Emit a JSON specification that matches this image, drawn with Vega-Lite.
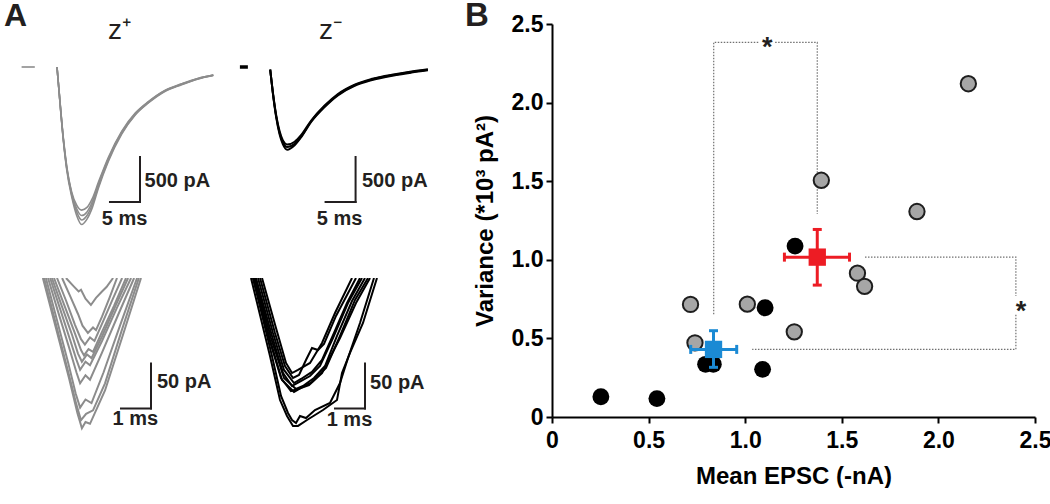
{
"$schema": "https://vega.github.io/schema/vega-lite/v6.json",
"padding": 0,
"background": "white",
"config": {"view": {"stroke": null}, "font": "Liberation Sans"},
"datasets": {
"tl": [
{"trace":"s","t":-5.9,"pA":0},{"trace":"s","t":-3.7,"pA":0},
{"trace":"a","t":0,"pA":0},{"trace":"a","t":0.5,"pA":-400},{"trace":"a","t":1.05,"pA":-810},{"trace":"a","t":1.62,"pA":-1140},{"trace":"a","t":2.45,"pA":-1440},{"trace":"a","t":3.28,"pA":-1650},{"trace":"a","t":4.1,"pA":-1750},{"trace":"a","t":5.0,"pA":-1690},{"trace":"a","t":5.9,"pA":-1560},{"trace":"a","t":6.88,"pA":-1350},{"trace":"a","t":8.55,"pA":-1050},{"trace":"a","t":10.78,"pA":-745},{"trace":"a","t":13.0,"pA":-535},{"trace":"a","t":15.22,"pA":-400},{"trace":"a","t":17.97,"pA":-272},{"trace":"a","t":20.78,"pA":-197},{"trace":"a","t":23.55,"pA":-133},{"trace":"a","t":26.05,"pA":-95},
{"trace":"b","t":0,"pA":0},{"trace":"b","t":0.5,"pA":-395},{"trace":"b","t":1.05,"pA":-800},{"trace":"b","t":1.62,"pA":-1125},{"trace":"b","t":2.45,"pA":-1420},{"trace":"b","t":3.28,"pA":-1610},{"trace":"b","t":4.1,"pA":-1700},{"trace":"b","t":5.0,"pA":-1650},{"trace":"b","t":5.9,"pA":-1525},{"trace":"b","t":6.88,"pA":-1325},{"trace":"b","t":8.55,"pA":-1035},{"trace":"b","t":10.78,"pA":-735},{"trace":"b","t":13.0,"pA":-530},{"trace":"b","t":15.22,"pA":-395},{"trace":"b","t":17.97,"pA":-268},{"trace":"b","t":20.78,"pA":-193},{"trace":"b","t":23.55,"pA":-130},{"trace":"b","t":26.05,"pA":-92},
{"trace":"c","t":0,"pA":0},{"trace":"c","t":0.5,"pA":-390},{"trace":"c","t":1.05,"pA":-795},{"trace":"c","t":1.62,"pA":-1115},{"trace":"c","t":2.45,"pA":-1405},{"trace":"c","t":3.28,"pA":-1575},{"trace":"c","t":4.1,"pA":-1650},{"trace":"c","t":5.0,"pA":-1610},{"trace":"c","t":5.9,"pA":-1495},{"trace":"c","t":6.88,"pA":-1305},{"trace":"c","t":8.55,"pA":-1020},{"trace":"c","t":10.78,"pA":-725},{"trace":"c","t":13.0,"pA":-522},{"trace":"c","t":15.22,"pA":-390},{"trace":"c","t":17.97,"pA":-264},{"trace":"c","t":20.78,"pA":-190},{"trace":"c","t":23.55,"pA":-127},{"trace":"c","t":26.05,"pA":-90},
{"trace":"d","t":0,"pA":0},{"trace":"d","t":0.5,"pA":-385},{"trace":"d","t":1.05,"pA":-785},{"trace":"d","t":1.62,"pA":-1100},{"trace":"d","t":2.45,"pA":-1390},{"trace":"d","t":3.28,"pA":-1535},{"trace":"d","t":4.1,"pA":-1590},{"trace":"d","t":5.0,"pA":-1560},{"trace":"d","t":5.9,"pA":-1460},{"trace":"d","t":6.88,"pA":-1285},{"trace":"d","t":8.55,"pA":-1005},{"trace":"d","t":10.78,"pA":-715},{"trace":"d","t":13.0,"pA":-515},{"trace":"d","t":15.22,"pA":-385},{"trace":"d","t":17.97,"pA":-260},{"trace":"d","t":20.78,"pA":-186},{"trace":"d","t":23.55,"pA":-124},{"trace":"d","t":26.05,"pA":-88}
],
"tr": [
{"trace":"s","t":-5.05,"pA":0},{"trace":"s","t":-3.72,"pA":0},
{"trace":"a","t":0,"pA":-30},{"trace":"a","t":0.45,"pA":-295},{"trace":"a","t":1.0,"pA":-560},{"trace":"a","t":1.57,"pA":-750},{"trace":"a","t":2.12,"pA":-860},{"trace":"a","t":2.83,"pA":-920},{"trace":"a","t":4.07,"pA":-870},{"trace":"a","t":5.17,"pA":-780},{"trace":"a","t":6.83,"pA":-610},{"trace":"a","t":9.07,"pA":-445},{"trace":"a","t":11.28,"pA":-315},{"trace":"a","t":14.07,"pA":-210},{"trace":"a","t":16.83,"pA":-148},{"trace":"a","t":20.78,"pA":-92},{"trace":"a","t":23.55,"pA":-62},{"trace":"a","t":26.28,"pA":-36},
{"trace":"b","t":0,"pA":-30},{"trace":"b","t":0.45,"pA":-289},{"trace":"b","t":1.0,"pA":-548},{"trace":"b","t":1.57,"pA":-733},{"trace":"b","t":2.12,"pA":-837},{"trace":"b","t":2.83,"pA":-889},{"trace":"b","t":4.07,"pA":-852},{"trace":"b","t":5.17,"pA":-770},{"trace":"b","t":6.83,"pA":-603},{"trace":"b","t":9.07,"pA":-437},{"trace":"b","t":11.28,"pA":-308},{"trace":"b","t":14.07,"pA":-203},{"trace":"b","t":16.83,"pA":-141},{"trace":"b","t":20.78,"pA":-86},{"trace":"b","t":23.55,"pA":-56},{"trace":"b","t":26.28,"pA":-30},
{"trace":"c","t":0,"pA":-30},{"trace":"c","t":0.45,"pA":-282},{"trace":"c","t":1.0,"pA":-535},{"trace":"c","t":1.57,"pA":-715},{"trace":"c","t":2.12,"pA":-815},{"trace":"c","t":2.83,"pA":-860},{"trace":"c","t":4.07,"pA":-830},{"trace":"c","t":5.17,"pA":-755},{"trace":"c","t":6.83,"pA":-595},{"trace":"c","t":9.07,"pA":-428},{"trace":"c","t":11.28,"pA":-300},{"trace":"c","t":14.07,"pA":-196},{"trace":"c","t":16.83,"pA":-134},{"trace":"c","t":20.78,"pA":-80},{"trace":"c","t":23.55,"pA":-50},{"trace":"c","t":26.28,"pA":-25}
],
"bl": [
{"trace":"1","t":3.2,"pA":-1575},{"trace":"1","t":3.45,"pA":-1584},{"trace":"1","t":3.62,"pA":-1590},{"trace":"1","t":3.7,"pA":-1588},{"trace":"1","t":3.85,"pA":-1598},{"trace":"1","t":4.03,"pA":-1605},{"trace":"1","t":4.2,"pA":-1597},{"trace":"1","t":4.4,"pA":-1590},{"trace":"1","t":4.55,"pA":-1585},{"trace":"1","t":4.77,"pA":-1575},
{"trace":"2","t":3.07,"pA":-1575},{"trace":"2","t":3.35,"pA":-1596},{"trace":"2","t":3.6,"pA":-1615},{"trace":"2","t":3.75,"pA":-1628},{"trace":"2","t":3.93,"pA":-1636},{"trace":"2","t":4.1,"pA":-1630},{"trace":"2","t":4.2,"pA":-1633},{"trace":"2","t":4.4,"pA":-1618},{"trace":"2","t":4.65,"pA":-1597},{"trace":"2","t":4.9,"pA":-1575},
{"trace":"3","t":2.9,"pA":-1575},{"trace":"3","t":3.2,"pA":-1600},{"trace":"3","t":3.5,"pA":-1627},{"trace":"3","t":3.7,"pA":-1643},{"trace":"3","t":3.83,"pA":-1649},{"trace":"3","t":4.0,"pA":-1641},{"trace":"3","t":4.15,"pA":-1645},{"trace":"3","t":4.45,"pA":-1622},{"trace":"3","t":4.75,"pA":-1599},{"trace":"3","t":5.07,"pA":-1575},
{"trace":"4","t":2.8,"pA":-1575},{"trace":"4","t":3.13,"pA":-1604},{"trace":"4","t":3.47,"pA":-1634},{"trace":"4","t":3.7,"pA":-1655},{"trace":"4","t":3.8,"pA":-1661},{"trace":"4","t":3.95,"pA":-1654},{"trace":"4","t":4.1,"pA":-1657},{"trace":"4","t":4.4,"pA":-1635},{"trace":"4","t":4.8,"pA":-1606},{"trace":"4","t":5.2,"pA":-1575},
{"trace":"5","t":2.73,"pA":-1575},{"trace":"5","t":3.07,"pA":-1607},{"trace":"5","t":3.4,"pA":-1638},{"trace":"5","t":3.6,"pA":-1659},{"trace":"5","t":3.73,"pA":-1668},{"trace":"5","t":3.9,"pA":-1660},{"trace":"5","t":4.05,"pA":-1664},{"trace":"5","t":4.4,"pA":-1640},{"trace":"5","t":4.85,"pA":-1606},{"trace":"5","t":5.27,"pA":-1575},
{"trace":"6","t":2.67,"pA":-1575},{"trace":"6","t":3.0,"pA":-1609},{"trace":"6","t":3.33,"pA":-1643},{"trace":"6","t":3.55,"pA":-1666},{"trace":"6","t":3.67,"pA":-1677},{"trace":"6","t":3.85,"pA":-1668},{"trace":"6","t":4.0,"pA":-1672},{"trace":"6","t":4.4,"pA":-1645},{"trace":"6","t":4.9,"pA":-1608},{"trace":"6","t":5.37,"pA":-1575},
{"trace":"7","t":2.6,"pA":-1575},{"trace":"7","t":2.95,"pA":-1614},{"trace":"7","t":3.3,"pA":-1652},{"trace":"7","t":3.55,"pA":-1680},{"trace":"7","t":3.67,"pA":-1692},{"trace":"7","t":3.85,"pA":-1683},{"trace":"7","t":4.0,"pA":-1688},{"trace":"7","t":4.4,"pA":-1658},{"trace":"7","t":4.95,"pA":-1615},{"trace":"7","t":5.47,"pA":-1575},
{"trace":"8","t":2.53,"pA":-1575},{"trace":"8","t":2.9,"pA":-1622},{"trace":"8","t":3.27,"pA":-1669},{"trace":"8","t":3.52,"pA":-1703},{"trace":"8","t":3.67,"pA":-1719},{"trace":"8","t":3.85,"pA":-1710},{"trace":"8","t":4.05,"pA":-1714},{"trace":"8","t":4.45,"pA":-1680},{"trace":"8","t":5.0,"pA":-1628},{"trace":"8","t":5.57,"pA":-1575},
{"trace":"9","t":2.47,"pA":-1575},{"trace":"9","t":2.87,"pA":-1627},{"trace":"9","t":3.27,"pA":-1679},{"trace":"9","t":3.55,"pA":-1716},{"trace":"9","t":3.7,"pA":-1733},{"trace":"9","t":3.87,"pA":-1726},{"trace":"9","t":4.1,"pA":-1722},{"trace":"9","t":4.5,"pA":-1692},{"trace":"9","t":5.05,"pA":-1634},{"trace":"9","t":5.63,"pA":-1575},
{"trace":"10","t":2.43,"pA":-1575},{"trace":"10","t":2.86,"pA":-1630},{"trace":"10","t":3.3,"pA":-1686},{"trace":"10","t":3.58,"pA":-1725},{"trace":"10","t":3.73,"pA":-1742},{"trace":"10","t":3.85,"pA":-1735},{"trace":"10","t":4.0,"pA":-1737},{"trace":"10","t":4.5,"pA":-1700},{"trace":"10","t":5.1,"pA":-1638},{"trace":"10","t":5.7,"pA":-1575}
],
"br": [
{"trace":"1","t":1.667,"pA":-755},{"trace":"1","t":2.133,"pA":-810.6},{"trace":"1","t":2.467,"pA":-849.4},{"trace":"1","t":2.667,"pA":-860.6},{"trace":"1","t":2.867,"pA":-857.2},{"trace":"1","t":3.267,"pA":-849.4},{"trace":"1","t":3.667,"pA":-827.2},{"trace":"1","t":4.1,"pA":-793.9},{"trace":"1","t":4.667,"pA":-755},
{"trace":"2","t":1.6,"pA":-755},{"trace":"2","t":2.1,"pA":-816.1},{"trace":"2","t":2.433,"pA":-852.8},{"trace":"2","t":2.7,"pA":-866.1},{"trace":"2","t":2.9,"pA":-862.8},{"trace":"2","t":3.133,"pA":-846.1},{"trace":"2","t":3.333,"pA":-832.8},{"trace":"2","t":3.533,"pA":-835},{"trace":"2","t":3.733,"pA":-828.3},{"trace":"2","t":4.133,"pA":-797.2},{"trace":"2","t":4.8,"pA":-755},
{"trace":"3","t":1.533,"pA":-755},{"trace":"3","t":2.033,"pA":-816.1},{"trace":"3","t":2.4,"pA":-857.2},{"trace":"3","t":2.733,"pA":-871.7},{"trace":"3","t":2.967,"pA":-867.2},{"trace":"3","t":3.333,"pA":-859.4},{"trace":"3","t":3.667,"pA":-846.1},{"trace":"3","t":4.067,"pA":-816.1},{"trace":"3","t":4.5,"pA":-782.8},{"trace":"3","t":4.933,"pA":-755},
{"trace":"4","t":1.467,"pA":-755},{"trace":"4","t":2.0,"pA":-819.4},{"trace":"4","t":2.367,"pA":-860.6},{"trace":"4","t":2.667,"pA":-875},{"trace":"4","t":2.9,"pA":-870.6},{"trace":"4","t":3.267,"pA":-863.9},{"trace":"4","t":3.6,"pA":-852.8},{"trace":"4","t":4.033,"pA":-821.7},{"trace":"4","t":4.533,"pA":-782.8},{"trace":"4","t":5.0,"pA":-755},
{"trace":"5","t":1.433,"pA":-755},{"trace":"5","t":1.967,"pA":-821.7},{"trace":"5","t":2.4,"pA":-866.1},{"trace":"5","t":2.8,"pA":-878.3},{"trace":"5","t":3.033,"pA":-875},{"trace":"5","t":3.4,"pA":-866.1},{"trace":"5","t":3.767,"pA":-852.8},{"trace":"5","t":4.167,"pA":-819.4},{"trace":"5","t":4.667,"pA":-780.6},{"trace":"5","t":5.1,"pA":-755},
{"trace":"6","t":1.4,"pA":-755},{"trace":"6","t":1.933,"pA":-823.9},{"trace":"6","t":2.333,"pA":-868.3},{"trace":"6","t":2.733,"pA":-881.7},{"trace":"6","t":2.967,"pA":-877.2},{"trace":"6","t":3.333,"pA":-870.6},{"trace":"6","t":3.8,"pA":-855},{"trace":"6","t":4.267,"pA":-819.4},{"trace":"6","t":4.767,"pA":-779.4},{"trace":"6","t":5.2,"pA":-755},
{"trace":"7","t":1.367,"pA":-755},{"trace":"7","t":1.9,"pA":-821.7},{"trace":"7","t":2.3,"pA":-866.1},{"trace":"7","t":2.633,"pA":-880.6},{"trace":"7","t":2.867,"pA":-878.3},{"trace":"7","t":3.233,"pA":-873.9},{"trace":"7","t":3.667,"pA":-860.6},{"trace":"7","t":4.267,"pA":-821.7},{"trace":"7","t":4.8,"pA":-782.8},{"trace":"7","t":5.267,"pA":-755},
{"trace":"8","t":1.367,"pA":-755},{"trace":"8","t":2.0,"pA":-841.7},{"trace":"8","t":2.3,"pA":-886.1},{"trace":"8","t":2.533,"pA":-905},{"trace":"8","t":2.667,"pA":-912.8},{"trace":"8","t":2.8,"pA":-916.1},{"trace":"8","t":2.933,"pA":-908.3},{"trace":"8","t":3.133,"pA":-910.6},{"trace":"8","t":3.433,"pA":-901.7},{"trace":"8","t":3.933,"pA":-893.9},{"trace":"8","t":4.267,"pA":-871.7},{"trace":"8","t":4.533,"pA":-843.9},{"trace":"8","t":4.933,"pA":-805},{"trace":"8","t":5.4,"pA":-755},
{"trace":"9","t":1.3,"pA":-755},{"trace":"9","t":1.933,"pA":-841.7},{"trace":"9","t":2.267,"pA":-890.6},{"trace":"9","t":2.5,"pA":-908.3},{"trace":"9","t":2.7,"pA":-919.4},{"trace":"9","t":2.867,"pA":-919.4},{"trace":"9","t":3.167,"pA":-912.8},{"trace":"9","t":3.7,"pA":-901.7},{"trace":"9","t":4.167,"pA":-890.6},{"trace":"9","t":4.333,"pA":-860.6},{"trace":"9","t":4.6,"pA":-838.3},{"trace":"9","t":5.033,"pA":-805},{"trace":"9","t":5.5,"pA":-755}
],
"bars": [
{"panel":"TL","t":13.83,"t2":13.83,"v":-1000,"v2":-1500},{"panel":"TL","t":8.83,"t2":13.83,"v":-1500,"v2":-1500},
{"panel":"TR","t":14.23,"t2":14.23,"v":-1000,"v2":-1500},{"panel":"TR","t":9.23,"t2":14.23,"v":-1500,"v2":-1500},
{"panel":"BL","t":6.033,"t2":6.033,"v":-1670,"v2":-1720},{"panel":"BL","t":5.033,"t2":6.033,"v":-1720,"v2":-1720},
{"panel":"BR","t":5.1,"t2":5.1,"v":-850,"v2":-900},{"panel":"BR","t":4.1,"t2":5.1,"v":-900,"v2":-900}
],
"labels": [
{"panel":"TL","kind":"amp","t":14.6,"v":-1267,"label":"500 pA"},{"panel":"TL","kind":"time","t":11.25,"v":-1689,"label":"5 ms"},{"panel":"TL","kind":"title","t":10.42,"v":311,"label":"z⁺"},
{"panel":"TR","kind":"amp","t":15.3,"v":-1267,"label":"500 pA"},{"panel":"TR","kind":"time","t":11.57,"v":-1689,"label":"5 ms"},{"panel":"TR","kind":"title","t":10.05,"v":311,"label":"z⁻"},
{"panel":"BL","kind":"amp","t":6.23,"v":-1691,"label":"50 pA"},{"panel":"BL","kind":"time","t":5.51,"v":-1732,"label":"1 ms"},
{"panel":"BR","kind":"amp","t":5.27,"v":-872,"label":"50 pA"},{"panel":"BR","kind":"time","t":4.583,"v":-913,"label":"1 ms"}
],
"gray": [
{"x":0.717,"y":0.716},{"x":0.74,"y":0.472},{"x":1.011,"y":0.718},{"x":1.254,"y":0.542},{"x":1.394,"y":1.506},{"x":1.581,"y":0.915},{"x":1.618,"y":0.831},{"x":1.889,"y":1.307},{"x":2.155,"y":2.12}
],
"black": [
{"x":0.253,"y":0.129},{"x":0.543,"y":0.117},{"x":0.795,"y":0.335},{"x":0.835,"y":0.335},{"x":1.09,"y":0.303},{"x":1.103,"y":0.695},{"x":1.258,"y":1.087}
],
"err": [
{"g":"red","x":1.373,"y":1.017,"xlo":1.203,"xhi":1.54,"ylo":0.839,"yhi":1.193},
{"g":"blue","x":0.836,"y":0.43,"xlo":0.718,"xhi":0.956,"ylo":0.316,"yhi":0.549}
],
"brk": [
{"seg":"1","k":0,"x":0.837,"y":0.653},{"seg":"1","k":1,"x":0.837,"y":2.383},{"seg":"1","k":2,"x":1.071,"y":2.383},
{"seg":"2","k":0,"x":1.155,"y":2.383},{"seg":"2","k":1,"x":1.373,"y":2.383},{"seg":"2","k":2,"x":1.373,"y":1.292},
{"seg":"3","k":0,"x":1.62,"y":1.017},{"seg":"3","k":1,"x":2.401,"y":1.017},{"seg":"3","k":2,"x":2.401,"y":0.77},
{"seg":"4","k":0,"x":2.401,"y":0.65},{"seg":"4","k":1,"x":2.401,"y":0.43},{"seg":"4","k":2,"x":1.036,"y":0.43}
],
"stars": [{"x":1.114,"y":2.299,"s":"*"},{"x":2.428,"y":0.614,"s":"*"}],
"blab": [{"x":-0.45,"y":2.487,"s":"B"}]
},
"spacing": 17,
"hconcat": [
{
"title": {"text":"A","anchor":"start","fontSize":32,"fontWeight":"bold","color":"#231f20","offset":-16,"dx":4},
"spacing": 40,
"vconcat": [
{"spacing": 15, "hconcat": [
{"width":215,"height":214,
 "layer":[
  {"data":{"name":"tl"},"mark":{"type":"line","color":"#8c8c8c","strokeWidth":1.6,"interpolate":"monotone"},
   "encoding":{"x":{"field":"t","type":"quantitative","scale":{"domain":[-9.5,26.3333],"nice":false,"zero":false},"axis":null},
               "y":{"field":"pA","type":"quantitative","scale":{"domain":[-1900,477.78],"nice":false,"zero":false},"axis":null},
               "detail":{"field":"trace","type":"nominal"}}},
  {"data":{"name":"bars"},"transform":[{"filter":"datum.panel == 'TL'"}],"mark":{"type":"rule","color":"#231f20","strokeWidth":2,"strokeCap":"square"},
   "encoding":{"x":{"field":"t","type":"quantitative","axis":null},"x2":{"field":"t2"},"y":{"field":"v","type":"quantitative","axis":null},"y2":{"field":"v2"}}},
  {"data":{"name":"labels"},"transform":[{"filter":"datum.panel == 'TL' && datum.kind == 'amp'"}],"mark":{"type":"text","fontSize":20,"fontWeight":"bold","align":"left","baseline":"middle","color":"#231f20"},
   "encoding":{"x":{"field":"t","type":"quantitative","axis":null},"y":{"field":"v","type":"quantitative","axis":null},"text":{"field":"label"}}},
  {"data":{"name":"labels"},"transform":[{"filter":"datum.panel == 'TL' && datum.kind == 'time'"}],"mark":{"type":"text","fontSize":20,"fontWeight":"bold","align":"center","baseline":"middle","color":"#231f20"},
   "encoding":{"x":{"field":"t","type":"quantitative","axis":null},"y":{"field":"v","type":"quantitative","axis":null},"text":{"field":"label"}}},
  {"data":{"name":"labels"},"transform":[{"filter":"datum.panel == 'TL' && datum.kind == 'title'"}],"mark":{"type":"text","fontSize":28,"fontWeight":"normal","align":"center","baseline":"alphabetic","color":"#231f20"},
   "encoding":{"x":{"field":"t","type":"quantitative","axis":null},"y":{"field":"v","type":"quantitative","axis":null},"text":{"field":"label"}}}
 ]},
{"width":215,"height":214,
 "layer":[
  {"data":{"name":"tr"},"transform":[{"filter":"datum.trace != 's'"}],"mark":{"type":"line","color":"#000000","strokeWidth":2,"interpolate":"monotone"},
   "encoding":{"x":{"field":"t","type":"quantitative","scale":{"domain":[-6.2,29.6333],"nice":false,"zero":false},"axis":null},
               "y":{"field":"pA","type":"quantitative","scale":{"domain":[-1900,477.78],"nice":false,"zero":false},"axis":null},
               "detail":{"field":"trace","type":"nominal"}}},
  {"data":{"name":"tr"},"transform":[{"filter":"datum.trace == 's'"}],"mark":{"type":"line","color":"#000000","strokeWidth":3.5},
   "encoding":{"x":{"field":"t","type":"quantitative","axis":null},"y":{"field":"pA","type":"quantitative","axis":null}}},
  {"data":{"name":"bars"},"transform":[{"filter":"datum.panel == 'TR'"}],"mark":{"type":"rule","color":"#231f20","strokeWidth":2,"strokeCap":"square"},
   "encoding":{"x":{"field":"t","type":"quantitative","axis":null},"x2":{"field":"t2"},"y":{"field":"v","type":"quantitative","axis":null},"y2":{"field":"v2"}}},
  {"data":{"name":"labels"},"transform":[{"filter":"datum.panel == 'TR' && datum.kind == 'amp'"}],"mark":{"type":"text","fontSize":20,"fontWeight":"bold","align":"left","baseline":"middle","color":"#231f20"},
   "encoding":{"x":{"field":"t","type":"quantitative","axis":null},"y":{"field":"v","type":"quantitative","axis":null},"text":{"field":"label"}}},
  {"data":{"name":"labels"},"transform":[{"filter":"datum.panel == 'TR' && datum.kind == 'time'"}],"mark":{"type":"text","fontSize":20,"fontWeight":"bold","align":"center","baseline":"middle","color":"#231f20"},
   "encoding":{"x":{"field":"t","type":"quantitative","axis":null},"y":{"field":"v","type":"quantitative","axis":null},"text":{"field":"label"}}},
  {"data":{"name":"labels"},"transform":[{"filter":"datum.panel == 'TR' && datum.kind == 'title'"}],"mark":{"type":"text","fontSize":28,"fontWeight":"normal","align":"center","baseline":"alphabetic","color":"#231f20"},
   "encoding":{"x":{"field":"t","type":"quantitative","axis":null},"y":{"field":"v","type":"quantitative","axis":null},"text":{"field":"label"}}}
 ]}
]},
{"spacing": 15, "hconcat": [
{"width":215,"height":160,
 "layer":[
  {"data":{"name":"bl"},"mark":{"type":"line","color":"#8c8c8c","strokeWidth":2,"clip":true},
   "encoding":{"x":{"field":"t","type":"quantitative","scale":{"domain":[1,8.1667],"nice":false,"zero":false},"axis":null},
               "y":{"field":"pA","type":"quantitative","scale":{"domain":[-1752.78,-1575],"nice":false,"zero":false},"axis":null},
               "detail":{"field":"trace","type":"nominal"}}},
  {"data":{"name":"bars"},"transform":[{"filter":"datum.panel == 'BL'"}],"mark":{"type":"rule","color":"#231f20","strokeWidth":2,"strokeCap":"square"},
   "encoding":{"x":{"field":"t","type":"quantitative","axis":null},"x2":{"field":"t2"},"y":{"field":"v","type":"quantitative","axis":null},"y2":{"field":"v2"}}},
  {"data":{"name":"labels"},"transform":[{"filter":"datum.panel == 'BL' && datum.kind == 'amp'"}],"mark":{"type":"text","fontSize":20,"fontWeight":"bold","align":"left","baseline":"middle","color":"#231f20"},
   "encoding":{"x":{"field":"t","type":"quantitative","axis":null},"y":{"field":"v","type":"quantitative","axis":null},"text":{"field":"label"}}},
  {"data":{"name":"labels"},"transform":[{"filter":"datum.panel == 'BL' && datum.kind == 'time'"}],"mark":{"type":"text","fontSize":20,"fontWeight":"bold","align":"center","baseline":"middle","color":"#231f20"},
   "encoding":{"x":{"field":"t","type":"quantitative","axis":null},"y":{"field":"v","type":"quantitative","axis":null},"text":{"field":"label"}}}
 ]},
{"width":215,"height":160,
 "layer":[
  {"data":{"name":"br"},"mark":{"type":"line","color":"#000000","strokeWidth":2,"clip":true},
   "encoding":{"x":{"field":"t","type":"quantitative","scale":{"domain":[0.6,7.7667],"nice":false,"zero":false},"axis":null},
               "y":{"field":"pA","type":"quantitative","scale":{"domain":[-932.78,-755],"nice":false,"zero":false},"axis":null},
               "detail":{"field":"trace","type":"nominal"}}},
  {"data":{"name":"bars"},"transform":[{"filter":"datum.panel == 'BR'"}],"mark":{"type":"rule","color":"#231f20","strokeWidth":2,"strokeCap":"square"},
   "encoding":{"x":{"field":"t","type":"quantitative","axis":null},"x2":{"field":"t2"},"y":{"field":"v","type":"quantitative","axis":null},"y2":{"field":"v2"}}},
  {"data":{"name":"labels"},"transform":[{"filter":"datum.panel == 'BR' && datum.kind == 'amp'"}],"mark":{"type":"text","fontSize":20,"fontWeight":"bold","align":"left","baseline":"middle","color":"#231f20"},
   "encoding":{"x":{"field":"t","type":"quantitative","axis":null},"y":{"field":"v","type":"quantitative","axis":null},"text":{"field":"label"}}},
  {"data":{"name":"labels"},"transform":[{"filter":"datum.panel == 'BR' && datum.kind == 'time'"}],"mark":{"type":"text","fontSize":20,"fontWeight":"bold","align":"center","baseline":"middle","color":"#231f20"},
   "encoding":{"x":{"field":"t","type":"quantitative","axis":null},"y":{"field":"v","type":"quantitative","axis":null},"text":{"field":"label"}}}
 ]}
]}
]
},
{
"width": 483, "height": 393,
"layer": [
 {"data":{"name":"brk"},"mark":{"type":"line","color":"#707070","strokeWidth":1.2,"strokeDash":[1.5,1.5]},
  "encoding":{
   "x":{"field":"x","type":"quantitative","title":"Mean EPSC (-nA)","scale":{"domain":[0,2.5],"nice":false,"zero":false},
        "axis":{"values":[0,0.5,1,1.5,2,2.5],"labelExpr":"datum.value == 0 ? '0' : format(datum.value, '.1f')","grid":false,"domainColor":"#000000","domainWidth":2,"tickColor":"#000000","tickWidth":2,"tickSize":6,"labelFontSize":23,"labelFontWeight":"bold","labelColor":"#000000","labelPadding":6,"labelFlush":false,"labelOverlap":false,"titleFontSize":24,"titleFontWeight":"bold","titleColor":"#000000","titlePadding":12}},
   "y":{"field":"y","type":"quantitative","title":"Variance (*10³ pA²)","scale":{"domain":[0,2.5],"nice":false,"zero":false},
        "axis":{"values":[0,0.5,1,1.5,2,2.5],"labelExpr":"datum.value == 0 ? '0' : format(datum.value, '.1f')","grid":false,"domainColor":"#000000","domainWidth":2,"tickColor":"#000000","tickWidth":2,"tickSize":6,"labelFontSize":23,"labelFontWeight":"bold","labelColor":"#000000","labelPadding":3,"labelFlush":false,"labelOverlap":false,"titleFontSize":24,"titleFontWeight":"bold","titleColor":"#000000","titlePadding":14}},
   "detail":{"field":"seg","type":"nominal"},
   "order":{"field":"k","type":"quantitative"}}},
 {"data":{"name":"gray"},"mark":{"type":"circle","fill":"#a6a6a6","stroke":"#1e1e1e","strokeWidth":2,"size":235,"opacity":1},
  "encoding":{"x":{"field":"x","type":"quantitative","title":"Mean EPSC (-nA)"},"y":{"field":"y","type":"quantitative","title":"Variance (*10³ pA²)"}}},
 {"data":{"name":"black"},"mark":{"type":"circle","color":"#000000","size":285,"opacity":1},
  "encoding":{"x":{"field":"x","type":"quantitative","title":"Mean EPSC (-nA)"},"y":{"field":"y","type":"quantitative","title":"Variance (*10³ pA²)"}}},
 {"data":{"name":"err"},"mark":{"type":"rule","strokeWidth":3},
  "encoding":{"x":{"field":"xlo","type":"quantitative","title":"Mean EPSC (-nA)"},"x2":{"field":"xhi"},"y":{"field":"y","type":"quantitative","title":"Variance (*10³ pA²)"},
   "color":{"field":"g","type":"nominal","scale":{"domain":["red","blue"],"range":["#ed1c24","#1b8ad4"]},"legend":null}}},
 {"data":{"name":"err"},"mark":{"type":"rule","strokeWidth":3},
  "encoding":{"x":{"field":"x","type":"quantitative","title":"Mean EPSC (-nA)"},"y":{"field":"ylo","type":"quantitative","title":"Variance (*10³ pA²)"},"y2":{"field":"yhi"},
   "color":{"field":"g","type":"nominal","scale":{"domain":["red","blue"],"range":["#ed1c24","#1b8ad4"]},"legend":null}}},
 {"data":{"name":"err"},"mark":{"type":"tick","orient":"vertical","size":9,"thickness":3,"opacity":1},
  "encoding":{"x":{"field":"xlo","type":"quantitative","title":"Mean EPSC (-nA)"},"y":{"field":"y","type":"quantitative","title":"Variance (*10³ pA²)"},
   "color":{"field":"g","type":"nominal","scale":{"domain":["red","blue"],"range":["#ed1c24","#1b8ad4"]},"legend":null}}},
 {"data":{"name":"err"},"mark":{"type":"tick","orient":"vertical","size":9,"thickness":3,"opacity":1},
  "encoding":{"x":{"field":"xhi","type":"quantitative","title":"Mean EPSC (-nA)"},"y":{"field":"y","type":"quantitative","title":"Variance (*10³ pA²)"},
   "color":{"field":"g","type":"nominal","scale":{"domain":["red","blue"],"range":["#ed1c24","#1b8ad4"]},"legend":null}}},
 {"data":{"name":"err"},"mark":{"type":"tick","orient":"horizontal","size":9,"thickness":3,"opacity":1},
  "encoding":{"x":{"field":"x","type":"quantitative","title":"Mean EPSC (-nA)"},"y":{"field":"ylo","type":"quantitative","title":"Variance (*10³ pA²)"},
   "color":{"field":"g","type":"nominal","scale":{"domain":["red","blue"],"range":["#ed1c24","#1b8ad4"]},"legend":null}}},
 {"data":{"name":"err"},"mark":{"type":"tick","orient":"horizontal","size":9,"thickness":3,"opacity":1},
  "encoding":{"x":{"field":"x","type":"quantitative","title":"Mean EPSC (-nA)"},"y":{"field":"yhi","type":"quantitative","title":"Variance (*10³ pA²)"},
   "color":{"field":"g","type":"nominal","scale":{"domain":["red","blue"],"range":["#ed1c24","#1b8ad4"]},"legend":null}}},
 {"data":{"name":"err"},"mark":{"type":"point","shape":"square","filled":true,"size":300,"opacity":1},
  "encoding":{"x":{"field":"x","type":"quantitative","title":"Mean EPSC (-nA)"},"y":{"field":"y","type":"quantitative","title":"Variance (*10³ pA²)"},
   "color":{"field":"g","type":"nominal","scale":{"domain":["red","blue"],"range":["#ed1c24","#1b8ad4"]},"legend":null}}},
 {"data":{"name":"stars"},"mark":{"type":"text","fontSize":27,"fontWeight":"bold","align":"center","baseline":"alphabetic","color":"#231f20"},
  "encoding":{"x":{"field":"x","type":"quantitative","title":"Mean EPSC (-nA)"},"y":{"field":"y","type":"quantitative","title":"Variance (*10³ pA²)"},"text":{"field":"s"}}},
 {"data":{"name":"blab"},"mark":{"type":"text","fontSize":33,"fontWeight":"bold","align":"left","baseline":"alphabetic","color":"#231f20"},
  "encoding":{"x":{"field":"x","type":"quantitative","title":"Mean EPSC (-nA)"},"y":{"field":"y","type":"quantitative","title":"Variance (*10³ pA²)"},"text":{"field":"s"}}}
]
}
]
}
